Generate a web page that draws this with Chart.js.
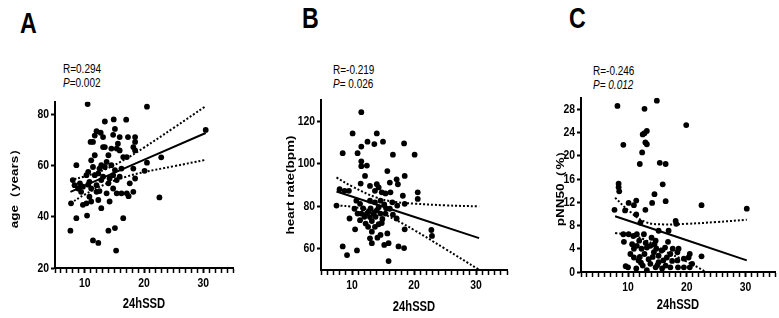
<!DOCTYPE html>
<html lang="en">
<head>
<meta charset="utf-8">
<script src="https://cdn.jsdelivr.net/npm/chart.js"></script>
<title>24hSSD correlations</title>
<style>
  body { margin: 0; background: #fff; }
  #wrap { position: relative; width: 779px; height: 318px; overflow: hidden; color: #000;
          font-family: "Liberation Sans", Arial, sans-serif; }
  canvas { position: absolute; }
  /* the source figure is squeezed sideways, so its lettering is too */
  .letter, .stat { position: absolute; transform: scaleX(0.8); transform-origin: 0 0; white-space: nowrap; }
  .letter { font-weight: bold; font-size: 29px; line-height: 1; }
  .stat { font-size: 12.5px; line-height: 14px; }
</style>
</head>
<body>
<div id="wrap">
  <div class="letter" style="left:20px;top:9px">A</div>
  <div class="letter" style="left:302px;top:4px">B</div>
  <div class="letter" style="left:569px;top:4px">C</div>
  <div class="stat" style="left:63px;top:62px">R=0.294<br><i>P</i>=0.002</div>
  <div class="stat" style="left:333px;top:63px">R=-0.219<br><i>P</i>= 0.026</div>
  <div class="stat" style="left:593px;top:64px">R=-0.246<br><i>P= 0.012</i></div>
  <canvas id="chartA" width="245" height="226" style="left:0px;top:92px"></canvas>
  <canvas id="chartB" width="255" height="228" style="left:262px;top:90px"></canvas>
  <canvas id="chartC" width="257" height="230" style="left:522px;top:88px"></canvas>
</div>

<script>
// panel A: age vs 24hSSD
const ssdA = [10.5,20.5,13.4,14.9,17.0,12.0,12.7,11.7,13.1,15.1,14.8,15.9,17.3,18.5,18.5,11.0,11.4,13.1,13.4,14.5,
  15.6,15.4,15.9,18.2,18.5,14.0,17.1,11.1,10.6,11.4,12.8,13.4,11.7,10.3,10.8,12.3,15.1,16.2,18.2,8.6,
  8.0,9.2,9.7,10.6,11.1,12.0,12.8,13.1,14.2,14.8,15.4,15.9,14.0,14.8,15.4,13.7,16.2,17.1,18.2,17.6,
  18.5,20.1,20.5,7.7,10.3,12.3,11.1,12.8,14.2,9.7,8.6,10.4,7.6,14.0,15.1,16.5,11.4,12.3,15.3,12.5,
  12.0,10.8,9.4,8.9,8.3,30.4,22.6,22.9,17.4,13.7,12.5,14.5,11.7,16.5];
const ageA = [84.1,83.1,77.3,78.1,78.0,73.5,72.9,71.8,71.2,74.4,72.1,71.2,71.2,71.2,69.3,69.3,69.3,67.3,67.3,66.7,
  68.6,66.7,66.0,67.3,66.0,64.1,63.4,62.1,57.6,59.5,60.2,59.5,56.3,56.3,53.7,57.0,58.3,58.9,58.9,60.2,
  54.4,53.1,51.8,52.6,51.1,52.4,54.4,55.7,55.0,56.3,54.4,55.7,53.1,51.1,49.2,49.2,49.2,49.2,49.8,53.1,
  55.0,58.0,61.2,45.3,45.3,46.6,46.0,43.4,46.0,44.7,39.5,40.5,34.6,34.6,35.6,39.5,30.8,29.8,26.8,50.1,
  49.8,47.9,49.8,51.1,52.4,74.0,47.6,63.3,48.1,61.5,58.9,60.2,64.1,63.4];
const fitXA = [7.6, 30.4];
const fitYA = [49.8, 72.8];
const bandXA = [7.6, 10, 13.5, 17, 20, 25, 30.4];
const upperA = [54.4, 55.8, 58.6, 62.8, 67.1, 74.8, 83.3];
const lowerA = [45.3, 48.7, 52.8, 55.7, 57.5, 59.8, 62.3];

// panel B: heart rate vs 24hSSD
const ssdB = [11.5,10.1,14.0,8.5,10.9,11.5,12.5,13.6,15.0,16.6,20.1,18.4,11.5,11.5,12.4,12.1,15.7,11.4,17.2,17.4,
  18.5,16.1,14.0,12.9,13.7,14.3,14.8,15.4,16.2,18.2,20.6,20.6,8.0,8.8,9.5,7.5,10.7,11.3,12.9,13.7,
  14.6,15.2,16.5,17.3,18.5,10.4,10.9,11.5,12.4,12.9,13.5,14.0,14.6,15.4,16.1,9.6,11.3,12.2,12.6,13.7,
  14.3,14.8,15.7,17.2,10.5,13.2,12.9,13.2,14.1,14.6,15.2,15.9,18.5,22.8,22.9,8.5,9.2,10.8,17.5,18.4,
  15.9,13.0,13.8,14.3,12.0,11.8,14.9,15.5,13.2,12.7,16.6];
const hrB = [124.2,114.2,114.2,104.9,104.9,108.0,110.3,109.2,110.3,104.2,104.2,109.5,101.1,98.8,99.1,94.2,96.5,90.6,92.6,90.3,
  94.2,91.1,90.3,89.5,87.2,88.8,86.5,86.0,86.5,84.9,86.5,83.4,88.0,87.2,87.2,80.3,82.6,81.1,82.6,81.8,
  82.6,80.8,81.8,80.3,81.1,78.8,76.5,76.5,76.5,74.9,76.5,78.0,76.5,76.5,78.8,74.2,73.4,71.8,70.3,70.3,
  71.5,72.1,67.2,74.2,69.1,68.0,64.9,62.6,65.2,66.5,61.8,62.6,69.1,68.8,66.0,61.1,57.0,59.2,61.1,60.3,
  54.2,79.0,75.0,79.5,75.0,79.0,74.0,79.0,73.0,77.5,76.0];
const fitXB = [7.5, 30.5];
const fitYB = [86.9, 65.0];
const bandXB = [7.5, 10, 14, 17, 20, 25, 30.5];
const upperB = [93.5, 89.3, 84.0, 82.0, 81.2, 80.4, 79.9];
const lowerB = [80.4, 79.7, 77.5, 73.6, 68.8, 60.0, 50.1];

// panel C: pNN50 vs 24hSSD
const ssdC = [8.2,14.9,12.8,19.9,13.2,12.8,12.5,12.95,13.2,9.2,12.4,12.0,15.4,16.4,15.9,8.4,8.5,8.4,14.5,16.4,
  22.5,30.2,7.7,11.4,10.1,9.5,11.0,12.95,14.1,11.4,12.1,9.2,9.3,18.1,18.2,15.2,16.9,10.1,11.5,10.9,
  12.7,14.0,14.7,10.7,11.0,11.5,11.9,12.3,12.8,13.2,13.8,14.4,14.8,15.2,15.7,16.3,16.6,17.2,17.6,18.4,
  18.6,19.5,20.3,20.5,20.9,22.5,9.6,11.4,12.5,13.2,13.8,14.7,15.2,15.8,16.4,17.2,18.5,19.5,20.5,18.4,
  17.5,11.0,11.8,10.4,12.0,13.5,14.2,15.0,16.0,14.5,13.0,16.8,10.0,12.2];
const pnnC = [28.6,29.5,28.1,25.3,24.3,23.9,23.7,22.3,22.0,21.9,20.6,18.6,18.8,18.6,15.1,14.6,13.9,15.2,13.4,12.2,
  11.5,10.9,10.7,12.3,11.9,10.6,11.5,10.7,11.9,9.9,8.5,6.5,5.2,8.8,8.3,7.1,7.1,6.5,6.5,6.2,
  6.5,5.9,5.4,4.8,4.0,4.5,5.4,4.0,3.1,4.2,4.5,3.4,4.0,2.8,3.7,4.2,2.5,3.1,4.0,3.4,
  4.0,2.3,2.5,3.1,1.4,2.7,1.0,0.6,1.1,0.3,1.4,0.8,1.7,0.6,1.1,0.8,0.8,0.8,0.8,2.0,
  1.9,2.5,2.0,3.1,2.6,2.2,2.6,1.2,2.0,4.8,5.0,5.2,0.8,1.6];
const fitXC = [7.8, 30.2];
const fitYC = [9.6, 2.0];
const bandXC = [7.8, 10.2, 13, 16, 20, 25, 30.2];
const upperC = [12.8, 10.5, 8.6, 8.2, 8.3, 8.6, 9.0];
const lowerC = [6.7, 6.4, 5.5, 3.7, 1.8, -1.1, -4.9];

const xTickLabels = [10, 20, 30];
const yTicksA = [20, 40, 60, 80];
const yTicksB = [60, 80, 100, 120];
const yTicksC = [0, 4, 8, 12, 16, 20, 24, 28];

const font = '"Liberation Sans", Arial, sans-serif';
const squeeze = 0.8;

function pairs(xs, ys) {
  return xs.map((x, i) => ({x: x, y: ys[i]}));
}

// squeeze canvas text sideways like the source image (rotated titles get squeezed across)
function narrowText(canvas) {
  const ctx = canvas.getContext('2d');
  const fill = ctx.fillText;
  ctx.fillText = function (text, x, y) {
    const m = this.getTransform();
    this.save();
    this.translate(x, y);
    if (Math.abs(m.b) > 0.5) this.scale(1, squeeze); else this.scale(squeeze, 1);
    fill.call(this, text, 0, 0);
    this.restore();
  };
}

function makePanel(id, p) {
  const canvas = document.getElementById(id);
  narrowText(canvas);
  const lineSet = (xs, ys, dash) => ({
    type: 'line', data: pairs(xs, ys), borderColor: '#000', borderWidth: 2,
    borderDash: dash, pointRadius: 0, tension: 0.4, fill: false
  });
  new Chart(canvas, {
    type: 'scatter',
    data: {
      datasets: [
        lineSet(p.fitX, p.fitY, []),
        lineSet(p.bandX, p.upper, [2, 2]),
        lineSet(p.bandX, p.lower, [2, 2]),
        { data: pairs(p.xs, p.ys), backgroundColor: '#000', borderWidth: 0, pointRadius: 2.9 }
      ]
    },
    options: {
      responsive: false,
      animation: false,
      layout: { padding: { top: p.padTop, right: p.padRight, left: 0, bottom: 0 } },
      plugins: { legend: { display: false }, tooltip: { enabled: false } },
      scales: {
        x: {
          type: 'linear', min: p.xMin, max: 35,
          afterFit: s => { s.height = p.xH; },
          border: { color: '#000', width: 2 },
          grid: { drawOnChartArea: false, tickLength: 5, tickColor: '#000',
                  tickWidth: c => xTickLabels.includes(c.tick && c.tick.value) ? 2 : 1.5 },
          ticks: { stepSize: 1, autoSkip: false, maxRotation: 0, padding: 3, color: '#000',
                   font: { family: font, size: 13, weight: 'bold' },
                   callback: v => xTickLabels.includes(v) ? String(v) : '' },
          title: { display: true, text: '24hSSD', color: '#000',
                   font: { family: font, size: 14, weight: 'bold' }, padding: { top: 0, bottom: p.xTitlePad } }
        },
        y: {
          min: p.yMin, max: p.yMax,
          afterFit: s => { s.width = p.yW; },
          afterBuildTicks: s => { s.ticks = p.yTicks.map(v => ({value: v})); },
          border: { color: '#000', width: 2 },
          grid: { drawOnChartArea: false, tickLength: 4, tickColor: '#000', tickWidth: 2 },
          ticks: { padding: 2, color: '#000', font: { family: font, size: 13, weight: 'bold' } },
          title: { display: true, text: p.yTitle, color: '#000',
                   font: { family: font, size: 13.5, weight: 'bold' }, padding: { top: p.yTitlePad, bottom: 0 } }
        }
      }
    }
  });
}

makePanel('chartA', { xs: ssdA, ys: ageA, fitX: fitXA, fitY: fitYA, bandX: bandXA, upper: upperA, lower: lowerA,
  xMin: 5, yMin: 20, yMax: 85, yTicks: yTicksA, yTitle: 'age（years）',
  padTop: 8, padRight: 12, yW: 55, xH: 50, xTitlePad: 5, yTitlePad: 7 });
makePanel('chartB', { xs: ssdB, ys: hrB, fitX: fitXB, fitY: fitYB, bandX: bandXB, upper: upperB, lower: lowerB,
  xMin: 5, yMin: 50, yMax: 130, yTicks: yTicksB, yTitle: 'heart rate(bpm)',
  padTop: 7, padRight: 10, yW: 59, xH: 48, xTitlePad: 2, yTitlePad: 21 });
makePanel('chartC', { xs: ssdC, ys: pnnC, fitX: fitXC, fitY: fitYC, bandX: bandXC, upper: upperC, lower: lowerC,
  xMin: 2, yMin: 0, yMax: 30, yTicks: yTicksC, yTitle: 'pNN50（%）',
  padTop: 7, padRight: 2, yW: 59, xH: 46, xTitlePad: 4, yTitlePad: 31 });
</script>
</body>
</html>
